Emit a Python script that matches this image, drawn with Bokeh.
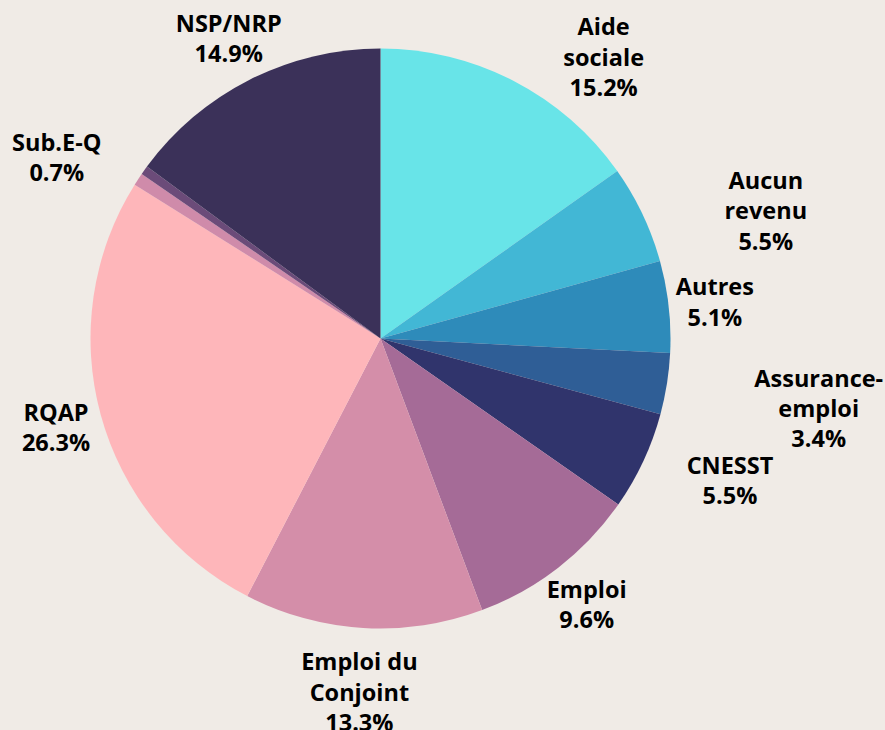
import math
from bokeh.plotting import figure
from bokeh.models import Range1d, ColumnDataSource
from bokeh.core.properties import value
from bokeh.embed import file_html
from bokeh.resources import INLINE

# ---- data (clockwise from 12 o'clock) ----
categories = ["Aide\nsociale", "Aucun\nrevenu", "Autres", "Assurance-\nemploi", "CNESST",
              "Emploi", "Emploi du\nConjoint", "RQAP", "Sub.E-Q", "", "NSP/NRP"]
shares = [15.2, 5.5, 5.1, 3.4, 5.5, 9.6, 13.3, 26.3, 0.7, 0.5, 14.9]
colors = ["#68E4E8", "#42B7D5", "#2E8BBA", "#2F5E96", "#30346C",
          "#A56B97", "#D48EA9", "#FEB6BA", "#CF8BAA", "#6B4B79", "#3B3159"]

# ---- label layout (radius factor, angle nudge in degrees) ----
label_r = [1.24, 1.40, 1.16, 1.53, 1.30, 1.16, 1.22, 1.16, 1.28, 0, 1.16]
label_nudge = [11, 7, 0, 0, -3, 0, 0, 0, -4, 0, 0]

W, H = 885, 730
BG = "#F0EBE6"
cx, cy, R = 380, 730 - 338, 290

total = sum(shares)
starts, ends, lx, ly, ltxt = [], [], [], [], []
cum = 0.0
for i, s in enumerate(shares):
    c0 = cum / total * 360.0
    c1 = (cum + s) / total * 360.0
    cum += s
    starts.append(math.radians(90 - c1))
    ends.append(math.radians(90 - c0))
    if categories[i]:
        mid = (c0 + c1) / 2 + label_nudge[i]
        a = math.radians(90 - mid)
        lx.append(cx + R * label_r[i] * math.cos(a))
        ly.append(cy + R * label_r[i] * math.sin(a))
        ltxt.append(f"{categories[i]}\n{s:.1f}%")

src = ColumnDataSource(dict(start=starts, end=ends, color=colors))
lab = ColumnDataSource(dict(x=lx, y=ly, t=ltxt))

p = figure(width=W, height=H, x_range=Range1d(0, W), y_range=Range1d(0, H),
           output_backend="svg", toolbar_location=None, min_border=0,
           background_fill_color=BG, border_fill_color=BG, outline_line_color=None)
p.axis.visible = False
p.grid.visible = False

p.wedge(x=cx, y=cy, radius=R, start_angle="start", end_angle="end",
        fill_color="color", line_color=None, source=src)

p.text(x="x", y="y", text="t", source=lab, text_font=value("Open Sans"),
       text_font_style="bold", text_font_size="23.5px", text_color="#000000",
       text_align="center", text_baseline="middle", text_line_height=0.95)

html = file_html(p, INLINE)
html = html.replace("<head>", "<head><style>html,body{margin:0;padding:0;background:%s;overflow:hidden}</style>" % BG, 1)
open("out.html", "w").write(html)
